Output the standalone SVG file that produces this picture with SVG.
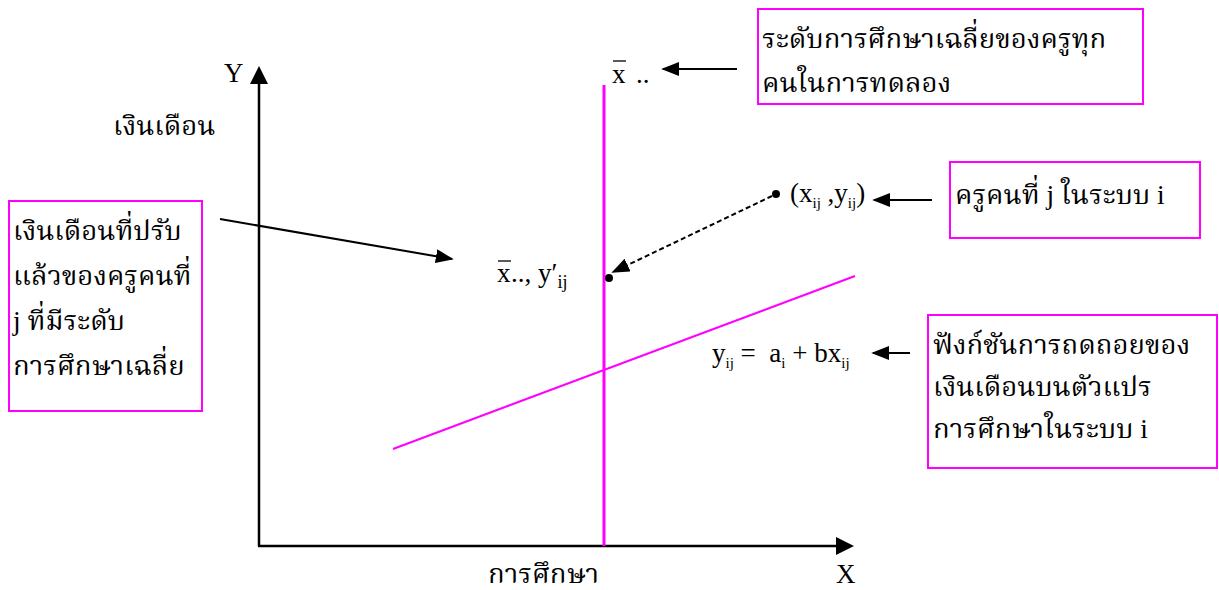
<svg xmlns="http://www.w3.org/2000/svg" width="1219" height="590" viewBox="0 0 1219 590">
<style>
text{font-family:"Liberation Serif","Noto Serif Thai","Noto Sans Thai","Loma","Garuda",serif;fill:#000;font-size:27px;white-space:pre}
.th{font-size:27.5px}
.box{fill:#fff;stroke:#ff00ff;stroke-width:2}
.ax{stroke:#000;stroke-width:2.5;fill:none}
.ar{stroke:#000;stroke-width:2;fill:none}
.mg{stroke:#ff00ff;stroke-width:3;fill:none}
.sub{font-size:15px}
</style>
<defs>
<marker id="ahb" viewBox="0 0 10 10" refX="9" refY="5" markerWidth="18" markerHeight="14" markerUnits="userSpaceOnUse" orient="auto" preserveAspectRatio="none"><path d="M0,0 L10,5 L0,10 z" fill="#000"/></marker>
</defs>
<g id="axes">
<line class="ax" x1="259" y1="546" x2="259" y2="84"/>
<path d="M250,84 L259,66 L268,84 z" fill="#000"/>
<line class="ax" x1="258" y1="546" x2="836" y2="546"/>
<path d="M836,537 L854,546 L836,555 z" fill="#000"/>
<text x="224" y="82">Y</text>
<text x="836" y="583">X</text>
<text class="th" x="113" y="135">เงินเดือน</text>
<text class="th" x="488" y="583">การศึกษา</text>
</g>
<g id="lines">
<line class="mg" x1="604" y1="85" x2="604" y2="546"/>
<line stroke="#ff00ff" stroke-width="2" x1="393" y1="449" x2="855" y2="276"/>
</g>
<g id="points">
<circle cx="776" cy="194" r="4" fill="#000"/>
<circle cx="609" cy="278" r="4" fill="#000"/>
</g>
<g id="labels">
<text x="612" y="83">x</text><line x1="613" y1="61" x2="626" y2="61" stroke="#000" stroke-width="1.3"/><text x="636" y="83">..</text>
<text x="790" y="202">(x<tspan class="sub" dy="6">ij</tspan><tspan dy="-6"> ,y</tspan><tspan class="sub" dy="6">ij</tspan><tspan dy="-6">)</tspan></text>
<text x="497" y="282">x</text><line x1="498" y1="261" x2="511" y2="261" stroke="#000" stroke-width="1.3"/><text x="511" y="282">.., y′<tspan class="sub" dy="6" style="font-size:18px">ij</tspan></text>
<text x="712" y="362">y<tspan class="sub" dy="6">ij</tspan><tspan dy="-6"> =  a</tspan><tspan class="sub" dy="6">i</tspan><tspan dy="-6"> + bx</tspan><tspan class="sub" dy="6">ij</tspan></text>
</g>
<g id="connectors">
<line class="ar" x1="737" y1="69" x2="663" y2="69" marker-end="url(#ahb)"/>
<line class="ar" x1="932" y1="200" x2="874" y2="200" marker-end="url(#ahb)"/>
<line class="ar" x1="910" y1="353" x2="873" y2="353" marker-end="url(#ahb)"/>
<line class="ar" x1="220" y1="219" x2="452" y2="259" marker-end="url(#ahb)"/>
<line class="ar" x1="772" y1="196" x2="613" y2="272" stroke-dasharray="5,3" marker-end="url(#ahb)"/>
</g>
<g id="box-top">
<rect class="box" x="758" y="9" width="385" height="95"/>
<text class="th" x="762" y="48">ระดับการศึกษาเฉลี่ยของครูทุก</text>
<text class="th" x="762" y="92">คนในการทดลอง</text>
</g>
<g id="box-teacher">
<rect class="box" x="950" y="162" width="250" height="76"/>
<text class="th" x="955" y="204">ครูคนที่ j ในระบบ i</text>
</g>
<g id="box-regression">
<rect class="box" x="928" y="315" width="289" height="153"/>
<text class="th" x="933" y="354">ฟังก์ชันการถดถอยของ</text>
<text class="th" x="933" y="396">เงินเดือนบนตัวแปร</text>
<text class="th" x="933" y="438">การศึกษาในระบบ i</text>
</g>
<g id="box-adjusted">
<rect class="box" x="9" y="201" width="193" height="210"/>
<text class="th" x="13" y="240">เงินเดือนที่ปรับ</text>
<text class="th" x="13" y="285">แล้วของครูคนที่</text>
<text class="th" x="13" y="330">j ที่มีระดับ</text>
<text class="th" x="13" y="375">การศึกษาเฉลี่ย</text>
</g>
</svg>
